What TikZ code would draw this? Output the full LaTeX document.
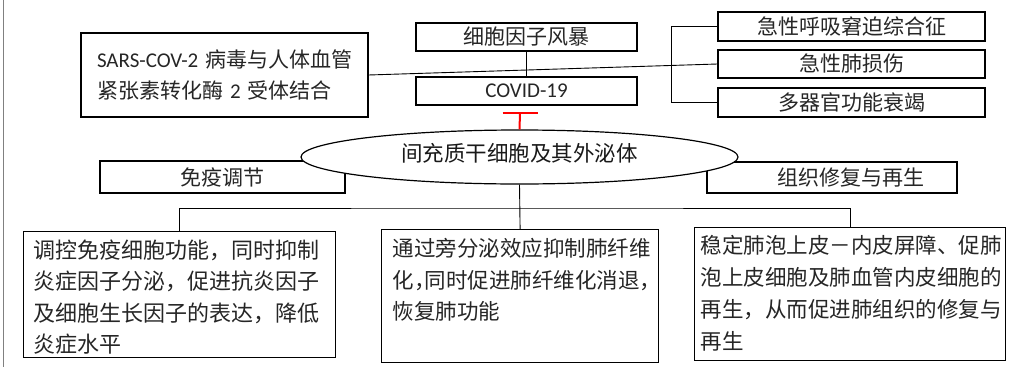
\documentclass[tikz,border=0pt]{standalone}
\usepackage{fontspec}
\setmainfont{Carlito}
\newfontfamily\cjk{Noto Sans CJK SC}
\usetikzlibrary{shapes.geometric}
\begin{document}
\begin{tikzpicture}[x=1pt,y=-1pt,
  box/.style={draw, line width=1.2pt, rectangle, inner sep=0pt, fill=white, text=black!85},
  conn/.style={line width=0.9pt},
  cn/.style={font=\cjk\fontsize{21}{31}\selectfont},
  redT/.style={draw=red, line width=2pt}
]
\useasboundingbox (0,0) rectangle (1009,367);
\draw[gray, line width=0.8pt] (3,0) -- (3,367);

% top row
\node[box, cn, minimum width=287pt, minimum height=84pt, text width=255pt, align=left, inner xsep=16pt] (sars) at (224.5,75)
  {\mbox{{\rmfamily SARS-COV-2} 病毒与人体血管}\\\mbox{紧张素转化酶 {\rmfamily 2} 受体结合}};
\node[box, cn, minimum width=221pt, minimum height=28pt] (storm) at (526.5,37) {细胞因子风暴};
\node[box, minimum width=221pt, minimum height=28pt, font=\fontsize{21}{25}\selectfont] (covid) at (526.5,91) {COVID-19};
\node[box, cn, minimum width=267pt, minimum height=29pt] (ards) at (851.5,26.5) {急性呼吸窘迫综合征};
\node[box, cn, minimum width=267pt, minimum height=28pt] (ali) at (851.5,64) {急性肺损伤};
\node[box, cn, minimum width=267pt, minimum height=29pt] (mof) at (851.5,102.5) {多器官功能衰竭};

% connectors at top
\draw[conn] (storm) -- (covid);
\draw[conn] (sars.east) -- (ali.west);
\draw[conn] (ards.west) -- ++(-46,0) |- (mof.west);

% side boxes (partly hidden by the ellipse)
\node[box, cn, minimum width=245pt, minimum height=32pt] (immune) at (222.5,177) {免疫调节};
\node[box, cn, minimum width=250pt, minimum height=31pt] (repair) at (832,177.5) {\hspace*{38pt}组织修复与再生};

% central ellipse
\node[ellipse, draw, line width=1.2pt, fill=white, minimum width=437pt, minimum height=54pt, inner sep=0pt,
  text height=18.9pt, text depth=10.6pt,
  text=black!90, font=\cjk\fontsize{21.5}{26}\selectfont] (msc) at (519.5,157) {间充质干细胞及其外泌体};

% red inhibition T
\coordinate (tbar) at (520,113);
\draw[redT] (msc.north) -- (tbar);
\draw[redT] (tbar) ++(-17.5,0) -- ++(35,0);

% bottom boxes
\node[box, anchor=north west, inner xsep=10pt, inner ysep=8pt, font=\cjk\fontsize{22}{31.5}\selectfont] (b1) at (23,231)
  {\parbox[t][110pt][t]{292pt}{调控免疫细胞功能，同时抑制\\炎症因子分泌，促进抗炎因子\\及细胞生长因子的表达，降低\\炎症水平}};
\node[box, anchor=north west, inner xsep=11pt, inner ysep=9pt, font=\cjk\fontsize{21.5}{31.5}\selectfont] (b2) at (381,229)
  {\parbox[t][115pt][t]{255pt}{通过旁分泌效应抑制肺纤维\\化，\kern-0.5em同时促进肺纤维化消退，\\恢复肺功能}};
\node[box, anchor=north west, inner xsep=6pt, inner ysep=7.5pt, font=\cjk\fontsize{21.5}{32}\selectfont] (b3) at (694,227)
  {\parbox[t][118pt][t]{299pt}{稳定肺泡上皮－内皮屏障、促肺\\泡上皮细胞及肺血管内皮细胞的\\再生，从而促进肺组织的修复与\\再生}};

% tree connectors
\coordinate (hub) at (519.5,208);
\draw[conn] (msc.south) -- (b2.north);
\draw[conn] (b1.north) |- (hub) -| (b3.north);
\end{tikzpicture}
\end{document}
